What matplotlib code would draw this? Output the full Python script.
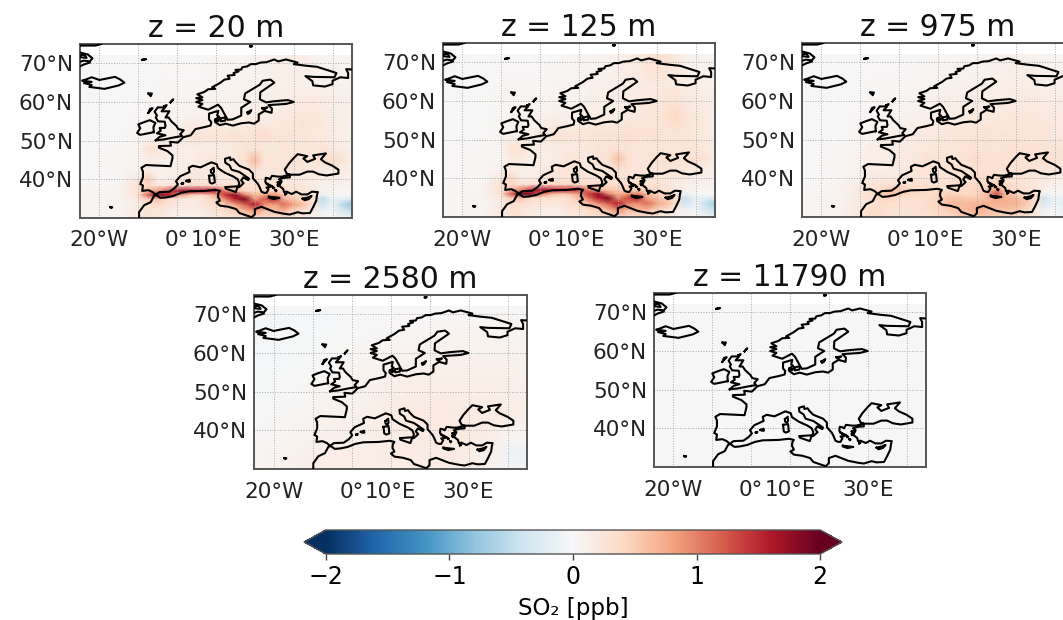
import matplotlib
matplotlib.use('Agg')
import matplotlib.pyplot as plt
import numpy as np

W, H = 1063, 620

# grid for the three low levels
LON = [-25, -15, -10, -7.5, -5, -2.5, 0, 2.5, 5, 7.5, 10, 12.5, 15, 17.5, 20, 22.5, 25, 27.5, 30, 32.5, 35, 37.5, 40, 45]
LAT = [30, 32, 33.5, 35, 36, 37, 38.5, 40, 42, 45, 48, 51, 56, 64, 72]

so2_20 = [
    [.02, .05, .2, .25, .25, .15, .1, .1, .1, .15, .2, .25, .25, .3, .4, .3, .25, .25, .2, .15, .1, .05, 0, -.1],
    [.02, .05, .2, .3, .25, .2, .15, .15, .15, .2, .3, .35, .5, .7, .9, .6, .6, .7, .4, .3, .15, -.1, -.05, -.5],
    [.02, .05, .15, .35, .35, .25, .2, .2, .2, .25, .35, .5, .8, 1.2, 1.6, .9, .8, 1.1, .8, .6, .25, -.4, -.1, -.8],
    [.02, .05, .2, .5, .6, .35, .25, .2, .2, .3, .5, 1.0, 1.6, 1.9, .8, 1.2, 1.6, .7, .5, .4, .3, -.5, -.1, -.3],
    [.02, .05, .3, 1.2, 1.9, 1.7, .9, .6, .4, .45, .8, 1.5, 1.8, 1.0, .6, .8, .9, .5, .4, .3, .25, -.1, 0, 0],
    [.02, .05, .3, .6, .9, 1.2, 1.7, 1.7, 1.6, 1.6, 1.5, 1.0, .6, .45, .4, .4, .45, .35, .3, .25, .2, .1, .05, .02],
    [.01, .04, .3, .4, .2, .25, .3, .35, .35, .35, .35, .3, .3, .3, .3, .3, .3, .25, .25, .2, .15, .1, .1, .05],
    [.01, .03, .2, .5, .12, .12, .18, .22, .22, .2, .2, .2, .25, .25, .25, .25, .25, .2, .2, .2, .15, .15, .12, .1],
    [.01, .02, .1, .2, .1, .1, .12, .15, .2, .2, .2, .2, .25, .2, .25, .2, .25, .25, .2, .2, .2, .15, .15, .12],
    [0, .02, .06, .15, .15, .1, .12, .15, .15, .22, .25, .2, .25, .3, .65, .25, .25, .25, .3, .25, .25, .3, .4, .15],
    [0, .02, .06, .3, .25, .15, .12, .12, .15, .15, .15, .15, .2, .25, .25, .2, .2, .25, .2, .2, .25, .25, .2, .12],
    [0, .01, .04, .06, .1, .12, .15, .25, .3, .25, .25, .25, .3, .25, .3, .35, .25, .3, .25, .25, .2, .2, .15, .1],
    [0, .01, .02, .03, .04, .05, .06, .08, .1, .1, .12, .12, .12, .12, .15, .15, .15, .2, .2, .25, .25, .2, .15, .12],
    [0, 0, .01, .01, .02, .02, .02, .03, .03, .04, .05, .06, .06, .08, .08, .1, .12, .12, .12, .12, .12, .12, .1, .08],
    [0, 0, 0, 0, 0, 0, 0, 0, .01, .01, .02, .02, .03, .04, .06, .08, .1, .12, .15, .15, .1, .05, .03, .02],
]
so2_125 = [
    [.02, .05, .2, .25, .25, .15, .12, .12, .12, .18, .2, .25, .25, .3, .4, .3, .25, .25, .2, .15, .1, .05, 0, -.1],
    [.02, .05, .2, .3, .25, .2, .15, .15, .15, .25, .3, .4, .5, .7, 1.0, .65, .65, .7, .45, .35, .15, -.1, -.05, -.5],
    [.02, .05, .15, .35, .35, .25, .25, .25, .25, .3, .4, .6, .9, 1.2, 1.6, 1.0, .9, 1.1, .8, .6, .3, -.4, -.1, -.7],
    [.02, .05, .2, .5, .6, .4, .3, .3, .3, .35, .6, 1.1, 1.6, 1.9, .9, 1.3, 1.6, .75, .6, .45, .3, -.45, -.1, -.3],
    [.02, .05, .3, 1.2, 2.0, 1.8, 1.1, .7, .5, .55, .85, 1.4, 1.8, 1.0, .7, .9, 1.0, .6, .45, .35, .25, -.1, 0, 0],
    [.02, .05, .3, .6, 1.0, 1.4, 1.7, 1.6, 1.5, 1.5, 1.4, 1.0, .65, .55, .5, .45, .5, .4, .35, .3, .2, .1, .05, .02],
    [.01, .04, .3, .4, .25, .3, .35, .4, .4, .4, .35, .35, .35, .35, .35, .35, .35, .3, .3, .25, .15, .12, .1, .05],
    [.01, .03, .2, .45, .15, .15, .2, .25, .25, .25, .25, .25, .25, .25, .3, .25, .3, .25, .2, .2, .2, .15, .12, .1],
    [.01, .02, .1, .2, .12, .12, .15, .2, .25, .25, .22, .2, .25, .25, .25, .25, .25, .25, .25, .25, .25, .2, .15, .12],
    [0, .02, .06, .2, .18, .12, .15, .15, .2, .25, .25, .2, .25, .3, .6, .3, .25, .25, .3, .3, .3, .3, .35, .2],
    [0, .02, .06, .3, .3, .18, .15, .15, .18, .18, .18, .2, .25, .25, .25, .25, .22, .25, .25, .25, .25, .25, .25, .15],
    [0, .01, .04, .08, .12, .15, .18, .25, .3, .25, .25, .25, .3, .3, .3, .35, .3, .3, .3, .25, .25, .25, .2, .15],
    [0, .01, .02, .04, .05, .06, .08, .1, .12, .12, .12, .15, .15, .15, .15, .18, .2, .22, .25, .3, .4, .25, .2, .15],
    [0, 0, .02, .02, .02, .03, .03, .04, .05, .06, .06, .08, .1, .12, .12, .15, .15, .18, .18, .2, .18, .15, .15, .1],
    [0, 0, 0, 0, 0, 0, .01, .01, .02, .02, .04, .05, .06, .08, .1, .15, .2, .3, .35, .3, .2, .1, .06, .04],
]
so2_975 = [
    [.02, .08, .25, .35, .35, .3, .25, .25, .25, .3, .35, .4, .45, .5, .5, .5, .45, .4, .35, .3, .2, .05, 0, -.1],
    [.02, .08, .2, .35, .35, .3, .25, .3, .3, .35, .4, .5, .6, .65, .75, .65, .6, .6, .55, .45, .2, -.1, 0, -.3],
    [.02, .08, .2, .3, .35, .3, .3, .3, .3, .35, .45, .6, .65, .65, .7, .7, .7, .7, .7, .55, .3, -.3, -.1, -.4],
    [.02, .08, .2, .3, .4, .45, .35, .3, .3, .35, .45, .55, .55, .5, .5, .6, .8, .7, .65, .5, .35, -.4, -.1, -.15],
    [.02, .06, .2, .3, .5, .6, .55, .4, .35, .35, .4, .45, .45, .4, .45, .6, 1.3, .6, .45, .35, .3, -.05, 0, 0],
    [.02, .06, .2, .3, .35, .5, .55, .45, .4, .35, .35, .35, .4, .4, .45, .5, .9, .5, .35, .3, .25, .1, .05, .02],
    [.01, .05, .15, .25, .25, .28, .3, .3, .3, .3, .3, .3, .3, .35, .4, .4, .45, .35, .3, .25, .2, .15, .1, .05],
    [.01, .04, .12, .2, .2, .2, .22, .22, .22, .25, .25, .25, .3, .3, .35, .35, .35, .3, .25, .25, .2, .2, .15, .1],
    [.01, .03, .1, .15, .15, .15, .18, .2, .25, .28, .25, .25, .3, .3, .3, .3, .3, .3, .3, .3, .25, .25, .2, .15],
    [0, .02, .08, .15, .15, .15, .18, .2, .22, .3, .28, .25, .28, .3, .4, .3, .3, .3, .3, .3, .3, .3, .3, .25],
    [0, .02, .06, .15, .15, .15, .15, .18, .2, .2, .22, .22, .25, .28, .28, .28, .28, .28, .3, .3, .3, .3, .25, .2],
    [0, .01, .04, .06, .08, .1, .12, .15, .18, .2, .22, .22, .25, .28, .3, .3, .28, .28, .28, .25, .25, .25, .2, .15],
    [0, .01, .02, .03, .04, .05, .06, .08, .1, .12, .15, .15, .15, .18, .2, .2, .2, .2, .22, .22, .22, .2, .18, .15],
    [0, 0, .01, .02, .02, .02, .03, .04, .05, .06, .08, .08, .1, .1, .12, .12, .14, .14, .15, .15, .15, .12, .1, .1],
    [0, 0, 0, 0, 0, 0, 0, 0, .01, .01, .02, .02, .03, .04, .05, .06, .08, .08, .1, .1, .08, .05, .03, .02],
]

# upper levels are smooth, a coarser grid is enough
LON_TOP = [-25, -15, -5, 5, 15, 25, 35, 40, 45]
LAT_TOP = [30, 34, 38, 44, 50, 58, 66, 72]

so2_2580 = [
    [.02, .1, .15, .15, .15, .15, .1, .02, -.08],
    [.02, .08, .15, .15, .17, .17, .1, -.1, -.15],
    [.01, .05, .1, .12, .17, .18, .15, .05, 0],
    [-.01, .02, .08, .12, .18, .18, .17, .15, .12],
    [-.02, 0, .05, .1, .15, .15, .15, .12, .12],
    [-.03, -.02, 0, .05, .08, .1, .1, .1, .08],
    [-.04, -.03, -.02, 0, .03, .04, .05, .05, .03],
    [-.04, -.04, -.03, -.01, 0, 0, .01, 0, 0],
]
so2_11790 = [
    [0, 0, 0, .01, .01, .01, 0, 0, 0],
    [0, 0, .01, .01, .01, .01, 0, 0, 0],
    [0, 0, 0, .01, .01, .01, .01, 0, 0],
    [0, 0, 0, 0, .01, .01, .01, 0, 0],
    [0, 0, 0, 0, 0, 0, 0, 0, 0],
    [0, 0, 0, 0, 0, 0, 0, 0, 0],
    [0, 0, 0, 0, 0, 0, 0, 0, 0],
    [0, 0, 0, 0, 0, 0, 0, 0, 0],
]

# coastlines, (lon, lat)
mainland = [
    (-9.8, 30), (-9.8, 31.5), (-8.5, 33.3), (-6.8, 34.1), (-5.9, 35.8), (-5.3, 35.9), (-4.3, 35.2), (-3, 35.3),
    (-1, 35.7), (1, 36.5), (3, 36.9), (7, 37), (9.8, 37.3), (11, 37), (10.6, 36.4), (10.5, 35.5), (11, 34.5),
    (10.1, 34), (11, 33.2), (13.2, 32.9), (15.2, 32.3), (16, 31.3), (18, 30.6), (19.2, 30.2), (20, 31), (20, 32.3),
    (21.7, 32.9), (23.2, 32.3), (25, 31.6), (27.5, 31.1), (29, 30.9), (31, 31.5), (32.3, 31.2), (34.2, 31.3),
    (35, 32.8), (35.8, 34.5), (36, 36), (36.2, 36.7), (34.7, 36.8), (33.5, 36.1), (32, 36.1), (30.6, 36.8),
    (29.5, 36.2), (28.2, 36.8), (27.5, 36.7), (27.3, 37.5), (26.3, 38.3), (26.9, 39.5), (26.2, 40), (27.5, 40.4),
    (29, 40.5), (29, 41.2), (31.5, 41.2), (33.5, 42), (35, 42), (36.5, 41.3), (38.5, 41), (41.5, 41.5), (41.5, 42.5),
    (40, 43.5), (38, 44.4), (37, 45.2), (38.3, 46.7), (35, 46.2), (35.5, 45.3), (33.5, 44.5), (32.5, 45.4), (33.5, 46),
    (31, 46.5), (30, 45.5), (28.7, 44), (27.7, 42.5), (28.2, 41.5), (29, 41.2), (27, 40.7), (26, 40.7), (24.4, 40.9),
    (23.9, 40), (23.4, 40.3), (22.8, 40.4), (22.7, 39.3), (24, 38), (23, 37.9), (23.5, 37.4), (23, 36.5), (22.4, 36.5),
    (21.7, 36.8), (21.2, 38), (20.8, 38.8), (19.5, 40.3), (19.5, 41.5), (18.5, 42.5), (16, 43.5), (15, 44.5), (14.5, 45.2),
    (13.7, 45), (13.6, 45.7), (12.3, 45.3), (12.4, 44.3), (13.5, 43.6), (14, 42.5), (16, 41.9), (18.5, 40.2), (18.3, 39.8),
    (17, 40.5), (16.5, 39.7), (17.1, 39), (16, 38), (15.7, 38), (16, 39), (15.6, 40), (14.5, 40.7), (12.3, 41.7),
    (10.5, 42.9), (10.2, 43.9), (8.8, 44.4), (7.5, 43.8), (6, 43.1), (4, 43.5), (3, 43), (3.2, 41.9), (0.8, 40.8),
    (-0.3, 39.5), (0.2, 38.7), (-0.7, 37.7), (-2, 36.8), (-4.5, 36.7), (-5.5, 36), (-6.3, 36.7), (-7.4, 37.2),
    (-9, 37), (-8.8, 38.4), (-9.5, 38.8), (-8.8, 40.5), (-8.8, 42), (-9.2, 43), (-8, 43.7), (-4, 43.5), (-1.7, 43.4),
    (-1.2, 45.5), (-1.2, 46.2), (-2.5, 47.3), (-4.7, 48.2), (-4.7, 48.6), (-1.6, 48.7), (-1.8, 49.7), (0.2, 49.5),
    (1.6, 50.9), (3.5, 51.4), (4.7, 53), (7, 53.5), (8.6, 53.9), (8.8, 54.8), (8.2, 55.5), (8.2, 57), (10.6, 57.7),
    (10.3, 56.5), (10.8, 56.2), (9.7, 55.3), (9.8, 54.8), (11, 54), (12.5, 54.4), (14.3, 53.9), (16.5, 54.5),
    (18.5, 54.7), (19.8, 54.4), (21, 55.2), (21, 56.8), (22.5, 57.7), (24.3, 57.2), (24.4, 58.3), (23.5, 59.2),
    (28, 59.5), (30, 60), (28.5, 60.5), (25, 60.2), (22.9, 59.9), (21.3, 60.7), (21.4, 62.5), (25, 65), (24, 65.8),
    (22, 65.5), (21.3, 64.5), (17.5, 62.2), (17.2, 60.7), (18.8, 60), (16.5, 58.5), (16.5, 56.5), (14.3, 55.5),
    (13, 55.4), (12.5, 56.3), (11.3, 58.5), (10.5, 59.3), (8, 58), (5.5, 58.8), (6.5, 59.5), (4.9, 60), (6.5, 60.5),
    (4.9, 61), (6.5, 61.2), (5.2, 62), (7, 62.6), (8, 63.3), (9.8, 63.4), (9, 63.8), (11, 64.9), (12.2, 65.8), (13.5, 66),
    (13, 66.8), (14.8, 67), (14.5, 67.5), (15.8, 67.9), (15, 68.3), (16.5, 68.4), (16.8, 69), (18, 69.2), (19, 69.8),
    (20.2, 69.8), (21.5, 70.2), (23, 70.3), (25, 71), (26, 70.5), (28, 71), (31, 70.2), (30, 69.8), (33, 69.4),
    (36, 69.1), (41, 67.5), (40.5, 66.4), (35, 66.5), (33, 66.7), (34.8, 65.4), (35, 64.3), (38, 64), (40, 64.6),
    (40, 65.5), (42, 66.4), (44, 66.2), (44, 67.5), (43.5, 68.5), (45, 68.4),
]
britain = [(-5.5, 50.1), (-3.5, 50.3), (-1, 50.8), (1.3, 51.2), (0.8, 51.7), (1.7, 52.7), (0.3, 53), (-0.2, 53.8),
           (-1.5, 55), (-2.2, 56), (-3, 56), (-2, 57.6), (-4, 57.6), (-3.1, 58.6), (-5, 58.6), (-5.8, 57.5), (-5.2, 56.5),
           (-5.5, 56), (-4.9, 55), (-3.2, 54.9), (-3, 53.8), (-3.2, 53.3), (-4.5, 53.3), (-4.2, 52.6), (-5.2, 51.9),
           (-3, 51.4), (-4.5, 51), (-5.5, 50.1)]
ireland = [(-6, 52.2), (-6.1, 53.5), (-5.6, 54.6), (-7, 55.3), (-8.5, 54.8), (-10, 54.2), (-9.5, 53.2), (-10.3, 52),
           (-9.5, 51.5), (-8, 51.8), (-6, 52.2)]
iceland = [(-24.3, 65.5), (-22, 66.4), (-20, 65.7), (-18, 66.1), (-16, 66.5), (-14.6, 65.8), (-13.6, 65), (-15, 64.3),
           (-18.7, 63.4), (-22.6, 63.9), (-22, 64.4), (-24, 64.9), (-22, 65.2), (-24.3, 65.5)]
sicily = [(12.5, 38), (15.6, 38.2), (15.1, 36.7), (12.5, 37.6), (12.5, 38)]
sardinia = [(8.2, 40.9), (9.5, 41.1), (9.7, 39.2), (8.9, 38.9), (8.4, 39.2), (8.2, 40.9)]
corsica = [(8.7, 42.4), (9.4, 43), (9.5, 42), (9.2, 41.4), (8.7, 41.8), (8.7, 42.4)]
crete = [(23.6, 35.5), (26.3, 35.2), (24.8, 34.9), (23.6, 35.3), (23.6, 35.5)]
cyprus = [(32.3, 35), (33.6, 35.3), (34.6, 35.7), (33.9, 34.9), (32.8, 34.6), (32.3, 35)]
mallorca = [(2.4, 39.6), (3.2, 39.9), (3.3, 39.4), (2.7, 39.4), (2.4, 39.6)]
ibiza = [(1.2, 38.9), (1.6, 39.1), (1.5, 38.8), (1.2, 38.9)]
zealand = [(11.1, 55.7), (12.5, 56.1), (12.4, 55.2), (11.2, 55), (11.1, 55.7)]
funen = [(9.9, 55.5), (10.8, 55.4), (10.5, 55), (9.9, 55.2), (9.9, 55.5)]
gotland = [(18.1, 57.3), (19.1, 57.9), (18.7, 57.2), (18.2, 56.9), (18.1, 57.3)]
saaremaa = [(21.9, 58.4), (23.2, 58.6), (22.3, 58), (21.9, 58.4)]
hebrides = [(-7.4, 57.2), (-6.3, 58.4), (-7, 58.2), (-7.4, 57.2)]
orkney = [(-3.3, 58.9), (-2.7, 59.2), (-2.9, 58.9), (-3.3, 58.9)]
shetland = [(-1.7, 59.9), (-1, 60.7), (-1.5, 60.2), (-1.7, 59.9)]
faroe = [(-7.4, 62.2), (-6.5, 62.2), (-6.8, 61.5), (-7.4, 62.2)]
jan_mayen = [(-9, 70.9), (-8, 71.1), (-8.5, 71), (-9, 70.9)]
madeira = [(-17.2, 32.8), (-16.7, 32.8), (-16.9, 32.6), (-17.2, 32.8)]
bear_island = [(18.8, 74.4), (19.3, 74.5), (19.1, 74.3), (18.8, 74.4)]
euboea = [(23, 38.9), (24.5, 38.2), (24, 38.2), (23, 38.9)]
lesbos = [(25.9, 39.2), (26.5, 39.3), (26.4, 39), (25.9, 39.2)]
chios = [(25.9, 38.5), (26.1, 38.5), (26, 38.2), (25.9, 38.5)]
naxos = [(25.3, 37.2), (25.6, 37.1), (25.4, 36.9), (25.3, 37.2)]
andros = [(24.7, 37.9), (25, 37.8), (24.7, 37.7), (24.7, 37.9)]
rhodes = [(27.8, 36.2), (28.2, 36.4), (27.8, 36), (27.8, 36.2)]
greenland_a = [(-25, 74.6), (-21, 74.6), (-19.5, 75)]
greenland_b = [(-25, 72.8), (-23, 72.3), (-21.8, 71.3), (-22.5, 70.5), (-24, 70.7), (-25, 70.4)]
greenland_c = [(-25, 71.6), (-23.3, 71.4), (-23.8, 72.2), (-25, 72.1)]
greenland_d = [(-25, 69.2), (-24, 69.7), (-22.5, 70.2)]

coasts = [mainland, britain, ireland, iceland, sicily, sardinia, corsica, crete, cyprus, mallorca, ibiza, zealand,
          funen, gotland, saaremaa, hebrides, orkney, shetland, faroe, jan_mayen, madeira, bear_island, euboea, lesbos,
          chios, naxos, andros, rhodes, greenland_a, greenland_b, greenland_c, greenland_d]

grid_lons = [-20, -10, 0, 10, 20, 30, 40]
lon_labels = ['20°W', '', '0°', '10°E', '', '30°E', '']
grid_lats = [40, 50, 60, 70]
lat_labels = ['40°N', '50°N', '60°N', '70°N']

cbar_ticks = [-2, -1, 0, 1, 2]

plt.rcParams['font.family'] = 'DejaVu Sans'


def px_axes(fig, x0, y0, x1, y1):
    return fig.add_axes([x0 / W, 1 - y1 / H, (x1 - x0) / W, (y1 - y0) / H])


def draw_panel(fig, box, title, lon, lat, values):
    ax = px_axes(fig, *box)
    mesh = ax.pcolormesh(lon, lat, np.array(values), cmap='RdBu_r', vmin=-2, vmax=2, shading='gouraud', zorder=1)
    for coast in coasts:
        xs, ys = zip(*coast)
        ax.plot(xs, ys, color='black', lw=1.5, zorder=3, solid_joinstyle='round')
    ax.set_xlim(-25, 45)
    ax.set_ylim(30, 75)
    ax.set_xticks(grid_lons, labels=lon_labels)
    ax.set_yticks(grid_lats, labels=lat_labels)
    ax.tick_params(axis='x', length=0, labelsize=15.5, pad=9, colors='#222222')
    ax.tick_params(axis='y', length=0, labelsize=15.5, pad=5, colors='#222222')
    ax.grid(True, color='#aaaaaa', lw=0.7, ls=':', zorder=2)
    for s in ax.spines.values():
        s.set_color('#555555')
        s.set_linewidth(1.4)
    ax.set_title(title, fontsize=21.5, pad=5, color='#111111')
    return mesh


fig = plt.figure(figsize=(W / 100, H / 100), dpi=100)

draw_panel(fig, (80, 44, 352, 218), 'z = 20 m', LON, LAT, so2_20)
draw_panel(fig, (443, 43, 715, 217), 'z = 125 m', LON, LAT, so2_125)
draw_panel(fig, (802, 43, 1074, 217), 'z = 975 m', LON, LAT, so2_975)
draw_panel(fig, (254, 295, 527, 469), 'z = 2580 m', LON_TOP, LAT_TOP, so2_2580)
m = draw_panel(fig, (654, 293, 926, 467), 'z = 11790 m', LON_TOP, LAT_TOP, so2_11790)

cax = px_axes(fig, 304, 530, 842, 554)
cb = fig.colorbar(m, cax=cax, orientation='horizontal', extend='both', extendfrac=0.044, ticks=cbar_ticks)
cb.ax.tick_params(labelsize=17, length=4, width=1, color='#444444', pad=4)
cb.outline.set_edgecolor('#555555')
cb.outline.set_linewidth(1)
cb.set_label('SO₂ [ppb]', fontsize=16.5, labelpad=6)

fig.savefig('out.png', dpi=100)
